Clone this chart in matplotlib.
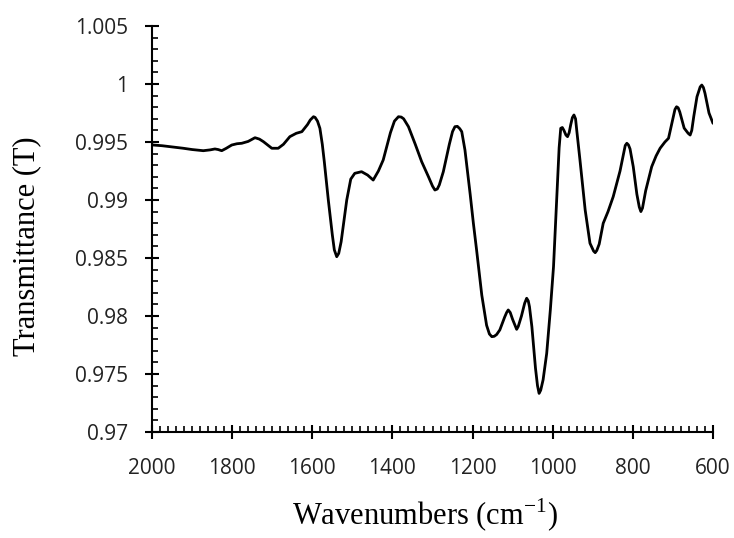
import matplotlib
matplotlib.use("Agg")
import matplotlib.pyplot as plt
from matplotlib.ticker import MultipleLocator, FuncFormatter

wavenumbers = [2000, 1997, 1975, 1955, 1922, 1900, 1872, 1855, 1843, 1835, 1826, 1815,
               1801, 1788, 1776, 1760, 1743, 1732, 1722, 1710, 1701, 1685, 1672, 1656,
               1640, 1626, 1612, 1605, 1597, 1593, 1587, 1581, 1575, 1570, 1560, 1550,
               1545, 1539, 1534, 1528, 1514, 1504, 1494, 1477, 1462, 1448, 1435, 1423,
               1405, 1395, 1385, 1378, 1372, 1360, 1343, 1327, 1310, 1300, 1294, 1288,
               1283, 1273, 1258, 1250, 1244, 1238, 1232, 1227, 1219, 1206, 1198, 1190,
               1177, 1165, 1158, 1152, 1146, 1140, 1132, 1120, 1115, 1111, 1106, 1100,
               1094, 1090, 1086, 1078, 1070, 1065, 1061, 1058, 1052, 1043, 1038, 1034,
               1030, 1024, 1015, 1006, 998, 990, 984, 980, 976, 972, 967, 963, 959, 955,
               951, 947, 943, 940, 932, 919, 907, 898, 894, 890, 884, 874, 862, 849,
               832, 819, 815, 811, 807, 799, 790, 784, 780, 776, 768, 753, 742, 732,
               720, 711, 700, 695, 691, 687, 683, 672, 662, 657, 653, 648, 640, 632,
               628, 624, 620, 610, 600]
transmittance = [0.99478, 0.99474, 0.99468, 0.99460, 0.99446, 0.99435, 0.99425, 0.99432,
                 0.99440, 0.99435, 0.99425, 0.99445, 0.99474, 0.99485, 0.99489, 0.99505,
                 0.99537, 0.99525, 0.99503, 0.99470, 0.99446, 0.99446, 0.99480, 0.99546,
                 0.99575, 0.99589, 0.99650, 0.99690, 0.99718, 0.99712, 0.99680, 0.99618,
                 0.99480, 0.99330, 0.99000, 0.98700, 0.98570, 0.98511, 0.98540, 0.98640,
                 0.99000, 0.99180, 0.99230, 0.99244, 0.99215, 0.99172, 0.99250, 0.99345,
                 0.99580, 0.99680, 0.99718, 0.99715, 0.99700, 0.99632, 0.99480, 0.99330,
                 0.99200, 0.99120, 0.99086, 0.99095, 0.99130, 0.99244, 0.99480, 0.99590,
                 0.99632, 0.99635, 0.99615, 0.99589, 0.99431, 0.99050, 0.98800, 0.98570,
                 0.98180, 0.97920, 0.97845, 0.97822, 0.97825, 0.97840, 0.97880, 0.97990,
                 0.98030, 0.98052, 0.98030, 0.97970, 0.97920, 0.97885, 0.97910, 0.98000,
                 0.98110, 0.98153, 0.98130, 0.98080, 0.97908, 0.97550, 0.97400, 0.97333,
                 0.97360, 0.97450, 0.97678, 0.98050, 0.98425, 0.99000, 0.99450, 0.99618,
                 0.99625, 0.99600, 0.99560, 0.99546, 0.99580, 0.99650, 0.99710, 0.99733,
                 0.99700, 0.99600, 0.99345, 0.98914, 0.98627, 0.98560, 0.98546, 0.98565,
                 0.98620, 0.98799, 0.98900, 0.99029, 0.99250, 0.99470, 0.99489, 0.99475,
                 0.99440, 0.99287, 0.99050, 0.98940, 0.98900, 0.98930, 0.99080, 0.99287,
                 0.99380, 0.99446, 0.99500, 0.99532, 0.99700, 0.99780, 0.99804, 0.99795,
                 0.99760, 0.99620, 0.99575, 0.99560, 0.99600, 0.99720, 0.99890, 0.99975,
                 0.99991, 0.99970, 0.99920, 0.99750, 0.99661]

x_label = "Wavenumbers (cm$^{\\mathregular{-1}}$)"
y_label = "Transmittance (T)"

plt.rcParams["mathtext.fontset"] = "custom"
plt.rcParams["mathtext.rm"] = "Liberation Serif"

fig = plt.figure(figsize=(7.34, 5.38), dpi=100)
ax = fig.add_axes([152/734, 1-432/538, (713-152)/734, (432-26)/538])
ax.plot(wavenumbers, transmittance, color="black", linewidth=2.0,
        solid_joinstyle="round", solid_capstyle="round")

ax.set_xlim(2000, 600)
ax.set_ylim(0.97, 1.005)
ax.xaxis.set_major_locator(MultipleLocator(200))
ax.xaxis.set_minor_locator(MultipleLocator(20))
ax.yaxis.set_major_locator(MultipleLocator(0.005))
ax.yaxis.set_minor_locator(MultipleLocator(0.001))

def yfmt(v, pos):
    return f"{v:.3f}".rstrip("0").rstrip(".")
ax.yaxis.set_major_formatter(FuncFormatter(yfmt))
ax.xaxis.set_major_formatter(FuncFormatter(lambda v, p: f"{int(round(v))}"))

for s in ["top", "right"]:
    ax.spines[s].set_visible(False)
for s in ["left", "bottom"]:
    ax.spines[s].set_linewidth(1.5)

tick_font = "Open Sans"
ax.tick_params(axis="both", which="major", direction="inout", length=10, width=1.5,
               labelsize=15, colors="black")
ax.tick_params(axis="both", which="minor", direction="in", length=4, width=1.2)
ax.tick_params(axis="y", which="major", pad=12)
ax.tick_params(axis="x", which="major", pad=14)
for lab in ax.get_xticklabels() + ax.get_yticklabels():
    lab.set_fontfamily(tick_font)
    lab.set_color("#222222")

fig.text(425/734, 1-515/538, x_label, ha="center", va="center",
         fontsize=22, family="Liberation Serif")
fig.text(27/734, 1-246/538, y_label, ha="center", va="center", rotation=90,
         fontsize=22, family="Liberation Serif")

fig.savefig("out.png", dpi=100)
